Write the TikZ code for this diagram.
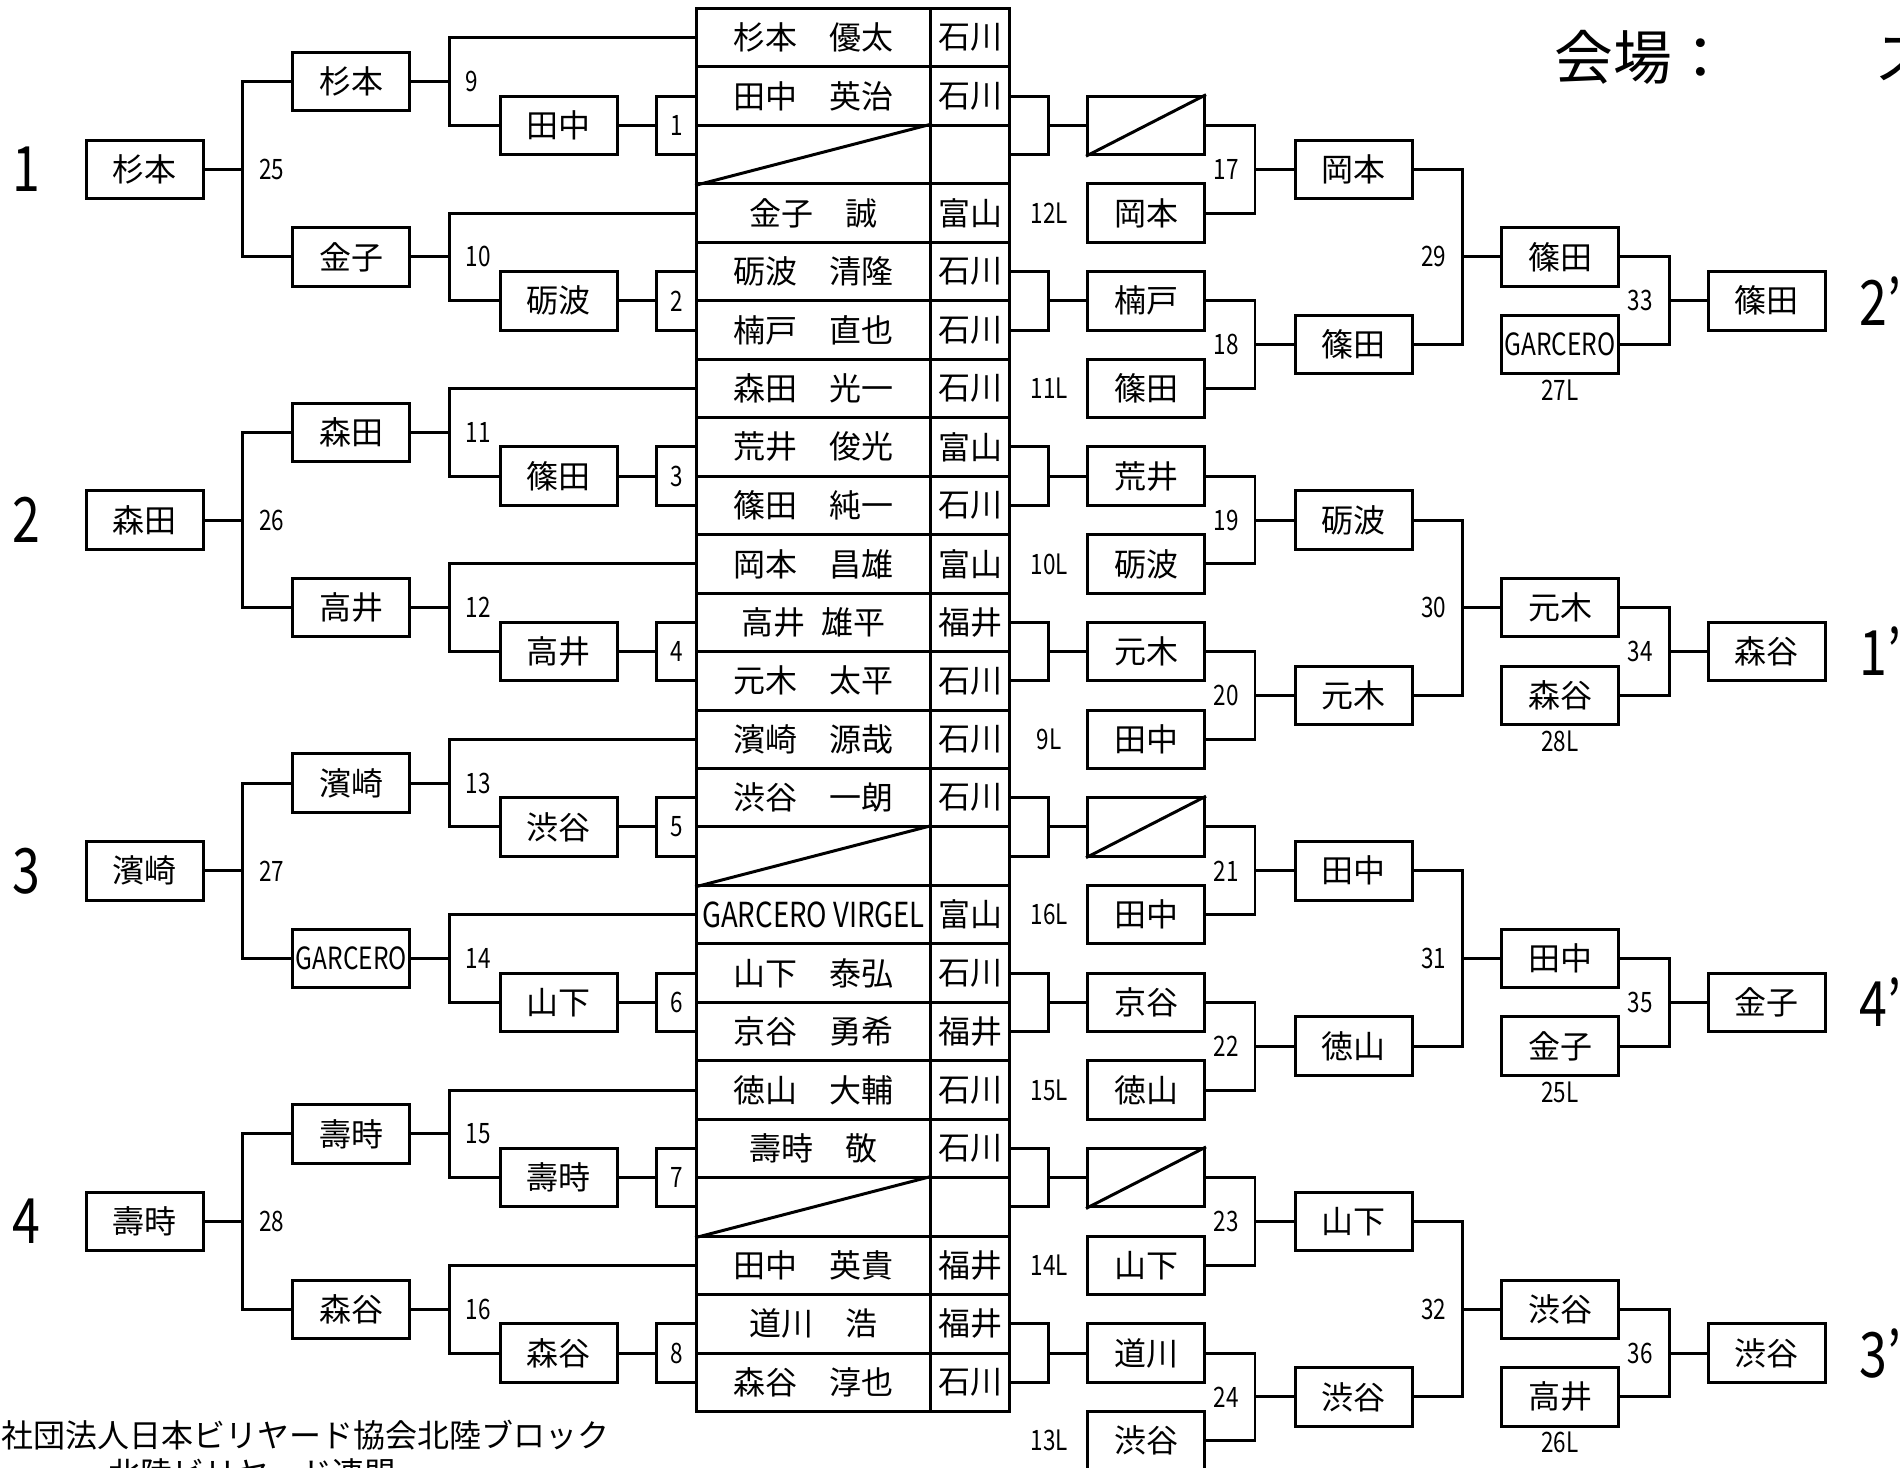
\documentclass[tikz,border=0pt]{standalone}
\usepackage{fontspec}
\setmainfont{Noto Sans CJK JP}
\newfontfamily\hw[FakeStretch=0.8]{Noto Sans CJK JP}
\begin{document}
\begin{tikzpicture}[x=0.1mm,y=-0.1mm,line width=0.85pt,font=\fontsize{9.1}{11}\selectfont,
pl/.style={draw,minimum width=11.7mm,minimum height=5.85mm,inner sep=0pt},
nm/.style={draw,minimum width=23.39mm,minimum height=5.846mm,inner sep=0pt},
pf/.style={draw,minimum width=7.88mm,minimum height=5.846mm,inner sep=0pt},
mt/.style={draw,minimum width=4mm,minimum height=5.846mm,inner sep=0pt,font=\hw\fontsize{8}{9}\selectfont},
no/.style={inner sep=0pt,font=\hw\fontsize{8}{9}\selectfont},
big/.style={inner sep=0pt,font=\hw\fontsize{17.8}{20}\selectfont}]
\def\T{8.5}
\def\R{58.46}
\def\narrowlat{\hw\fontsize{9.8}{11}\selectfont}
\def\narrowbox{\hw\fontsize{8.7}{10}\selectfont}
\useasboundingbox (0,0) rectangle (1900,1467);
\clip (0,0) rectangle (1900,1467);
\foreach \k/\n/\p in {1/杉本　優太/石川,2/田中　英治/石川,3//,4/金子　誠/富山,5/砺波　清隆/石川,6/楠戸　直也/石川,7/森田　光一/石川,8/荒井　俊光/富山,9/篠田　純一/石川,10/岡本　昌雄/富山,11/高井\enspace 雄平/福井,12/元木　太平/石川,13/濱崎　源哉/石川,14/渋谷　一朗/石川,15//,16/{\narrowlat GARCERO VIRGEL}/富山,17/山下　泰弘/石川,18/京谷　勇希/福井,19/徳山　大輔/石川,20/壽時　敬/石川,21//,22/田中　英貴/福井,23/道川　浩/福井,24/森谷　淳也/石川}
{\node[nm] (n\k) at (813.65,{\T+(\k-0.5)*\R}) {\n};
\node[pf] (p\k) at (970,{\T+(\k-0.5)*\R}) {\p};}
\foreach \k in {3,15,21} \draw (n\k.south west) -- (n\k.north east);
\foreach \m/\wa in {1/田中,2/砺波,3/篠田,4/高井,5/渋谷,6/山下,7/壽時,8/森谷}
{\node[mt] (m\m) at (676.7,{\T+(3*\m-1)*\R}) {\m};
\node[pl] (c\m) at (558.6,{\T+(3*\m-1)*\R}) {\wa};
\draw (c\m) -- (m\m);}
\foreach \j/\r/\wa/\lb in {1/1/杉本/9,2/4/金子/10,3/7/森田/11,4/10/高井/12,5/13/濱崎/13,6/16/{\narrowbox GARCERO}/14,7/19/壽時/15,8/22/森谷/16}
{\node[pl] (b\j) at (351.4,{\T+(3*\j-1.75)*\R}) {\wa};
\draw (b\j.east) -- ++(38,0) coordinate (q\j) node[no,right=1.5mm] {\lb};
\draw (n\r.west) -| (q\j) |- (c\j.west);}
\foreach \g/\wa/\ua/\ub/\lb in {1/杉本/1/2/25,2/森田/3/4/26,3/濱崎/5/6/27,4/壽時/7/8/28}
{\node[pl] (a\g) at (144.8,{\T+(6*\g-3.25)*\R}) {\wa};
\node[big] (s\g) at (26.7,{\T+(6*\g-3.25)*\R}) {\g};
\draw (a\g.east) -- ++(38,0) coordinate (r\g) node[no,right=1.5mm] {\lb};
\draw (b\ua.west) -| (r\g) |- (b\ub.west);}
\foreach \m/\ua/\ub/\wa in {1/2/3/,2/5/6/楠戸,3/8/9/荒井,4/11/12/元木,5/14/15/,6/17/18/京谷,7/20/21/,8/23/24/道川}
{\node[pl] (e\m) at (1146,{\T+(3*\m-1)*\R}) {\wa};
\draw (p\ua.east) -- ++(38,0) coordinate (x\m) |- (p\ub.east);
\draw (x\m |- e\m) -- (e\m);}
\foreach \m in {1,5,7} \draw (e\m.south west) -- (e\m.north east);
\foreach \ix/\lb/\wa in {1/12L/岡本,2/11L/篠田,3/10L/砺波,4/9L/田中,5/16L/田中,6/15L/徳山,7/14L/山下,8/13L/渋谷}
{\node[pl] (f\ix) at (1146,{\T+(3*\ix+0.5)*\R}) {\wa};
\node[no] (fl\ix) at (1049.3,{\T+(3*\ix+0.5)*\R}) {\lb};}
\foreach \ix/\lb/\wa in {1/17/岡本,2/18/篠田,3/19/砺波,4/20/元木,5/21/田中,6/22/徳山,7/23/山下,8/24/渋谷}
{\node[pl] (h\ix) at (1353.5,{\T+(3*\ix-0.25)*\R}) {\wa};
\draw (e\ix.east) -- ++(49,0) coordinate (y\ix) |- (f\ix.east);
\draw (y\ix |- h\ix) node[no,left=1.5mm] {\lb} -- (h\ix);}
\foreach \q/\ua/\ub/\lb/\wa/\wb/\wl in {1/1/2/29/篠田/{\narrowbox GARCERO}/27L,2/3/4/30/元木/森谷/28L,3/5/6/31/田中/金子/25L,4/7/8/32/渋谷/高井/26L}
{\node[pl] (t\q) at (1560,{\T+(6*\q-1.75)*\R}) {\wa};
\node[pl] (d\q) at (1560,{\T+(6*\q-0.25)*\R}) {\wb};
\node[no,below=0.3mm] (dl\q) at (d\q.south) {\wl};
\draw (h\ua.east) -- ++(49,0) coordinate (w\q) |- (h\ub.east);
\draw (w\q |- t\q) node[no,left=1.5mm] {\lb} -- (t\q);}
\foreach \q/\lb/\wa/\s in {1/33/篠田/2,2/34/森谷/1,3/35/金子/4,4/36/渋谷/3}
{\node[pl] (z\q) at (1766.6,{\T+(6*\q-1)*\R}) {\wa};
\node[big,anchor=west] (zl\q) at (1858,{\T+(6*\q-1)*\R}) {\s’};
\draw (t\q.east) -- ++(49,0) coordinate (o\q) |- (d\q.east);
\draw (o\q |- z\q) node[no,left=1.5mm] {\lb} -- (z\q);}
\node[anchor=west,inner sep=0pt,font=\fontsize{16.7}{20}\selectfont] (title) at (1553,57) {会場：\hspace{2.45em}ス};
\node[anchor=west,inner sep=0pt] (org) at (0,1435) {社団法人日本ビリヤード協会北陸ブロック};
\node[anchor=west,inner sep=0pt] (ren) at (107,1473) {北陸ビリヤード連盟};
\end{tikzpicture}
\end{document}
